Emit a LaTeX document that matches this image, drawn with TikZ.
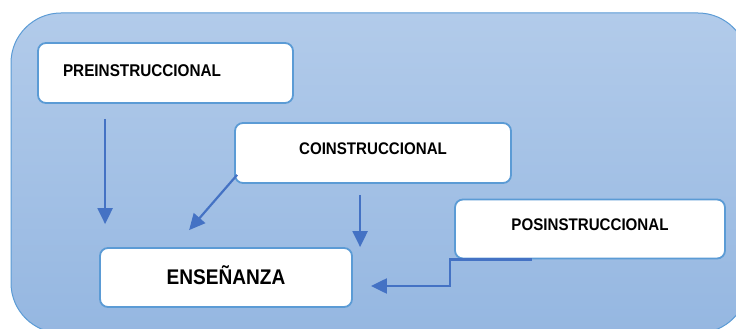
\documentclass[tikz,border=0pt]{standalone}
\usepackage{fontspec}
\setmainfont{Liberation Sans}[FakeStretch=0.9]
\usetikzlibrary{arrows.meta,calc}
\definecolor{bgtop}{HTML}{B2CBEA}
\definecolor{bgbot}{HTML}{95B7E1}
\definecolor{edgec}{HTML}{5B9BD5}
\definecolor{arr}{HTML}{4472C4}
\newcommand{\lift}[2]{\raisebox{#1}[\fontcharht\font`\E][0pt]{#2}}
\begin{document}
\begin{tikzpicture}[x=1pt,y=-1pt,
  box/.style={draw=edgec, line width=1.8pt, fill=white, rounded corners=8pt, inner sep=0pt},
  conn/.style={draw=arr, line width=2.2pt, -{Triangle[length=16pt,width=15pt]}}]
\useasboundingbox (0,0) rectangle (736,329);
\shadedraw[top color=bgtop, bottom color=bgbot, draw=edgec, line width=1pt, rounded corners=50pt] (11,13) rectangle (748,333);

\node[box, minimum width=255pt, minimum height=60pt, text width=205pt, inner xsep=25pt, align=left,
  font=\bfseries\fontsize{17}{20}\selectfont] (pre) at (165.5,73) {\lift{2pt}{PREINSTRUCCIONAL}};
\node[box, minimum width=276pt, minimum height=60pt, font=\bfseries\fontsize{16.8}{20}\selectfont]
  (co) at (373,153) {\lift{4.5pt}{COINSTRUCCIONAL}};
\node[box, minimum width=270pt, minimum height=59pt, font=\bfseries\fontsize{16.8}{20}\selectfont]
  (pos) at (590,229) {\lift{4.5pt}{POSINSTRUCCIONAL}};
\node[box, minimum width=252pt, minimum height=59pt, font=\bfseries\fontsize{21.2}{24}\selectfont]
  (ens) at (226,277.5) {\lift{0pt}{ENSEÑANZA}};

\coordinate (a1s) at ($(pre.south west)+(68,15)$);
\coordinate (a1e) at (a1s |- {$(ens.north)+(0,-23)$});
\coordinate (a2s) at ($(co.south west)+(3,-9)$);
\coordinate (a2e) at ($(ens.north west)+(90,-17)$);
\coordinate (a3s) at ($(co.south west)+(126,11)$);
\coordinate (a3e) at (a3s |- ens.north);
\coordinate (a4s) at ($(pos.south west)+(78,0)$);
\coordinate (a4e) at ($(ens.east)+(18,8.5)$);

\draw[conn] (a1s) -- (a1e);
\draw[conn] (a2s) -- (a2e);
\draw[conn] (a3s) -- (a3e);
\draw[conn] (a4s) -- ($(pos.south west)+(-4,0)$) |- (a4e);
\end{tikzpicture}
\end{document}
